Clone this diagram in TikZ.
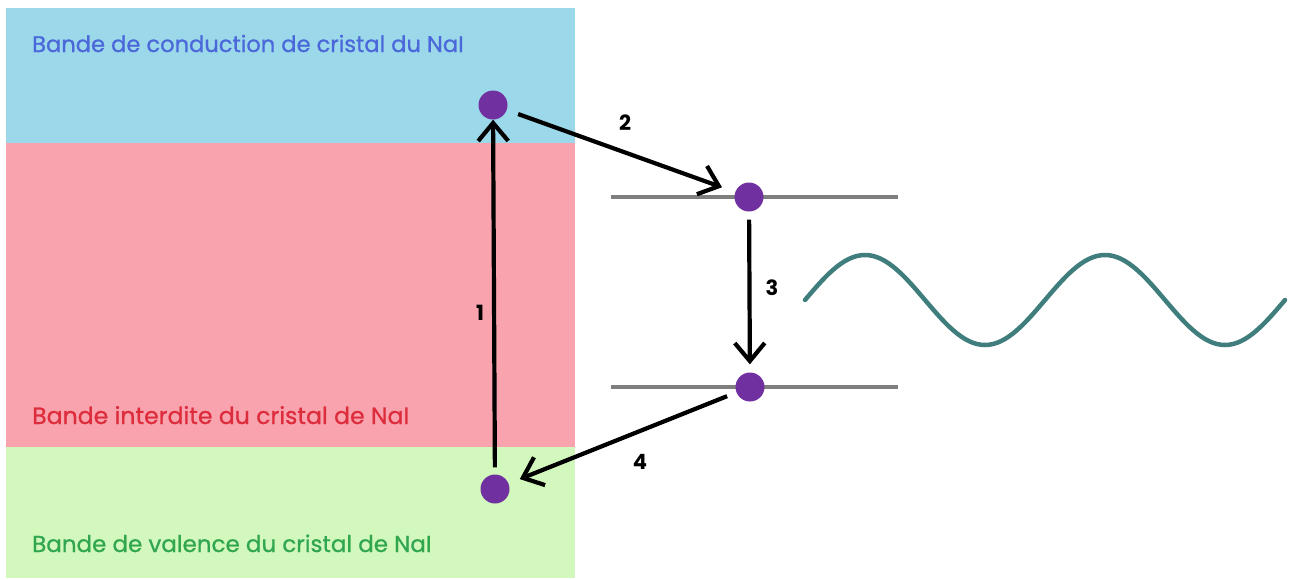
\documentclass[tikz,border=0pt]{standalone}
\usepackage{fontspec}
\setmainfont{Poppins}
\newfontfamily\bandfont[FakeBold=0.8]{Poppins}
\usetikzlibrary{arrows.meta}
\definecolor{blueband}{HTML}{9BD8E9}
\definecolor{pinkband}{HTML}{F9A3AE}
\definecolor{greenband}{HTML}{D3F8BD}
\definecolor{bluetext}{HTML}{4B68DA}
\definecolor{redtext}{HTML}{DD2D3C}
\definecolor{greentext}{HTML}{2FA64F}
\definecolor{dotpurple}{HTML}{7030A0}
\definecolor{wavecol}{HTML}{3F7E7C}
\definecolor{levelgrey}{HTML}{7F7F7F}
\begin{document}
\begin{tikzpicture}[x=1pt,y=-1pt,
  bandlabel/.style={anchor=base west,inner sep=0pt,font=\bandfont\fontsize{#1}{26}\selectfont},
  electron/.style={circle,fill=dotpurple,minimum size=29pt,inner sep=0pt},
  arr/.style={line width=4.2pt,-{Straight Barb[length=18pt,width=30pt]}},
  level/.style={line width=4pt,levelgrey},
  num/.style={font=\fontsize{21}{24}\selectfont\bfseries,inner sep=0pt},
  wave/.style={line width=4.5pt,wavecol,line cap=round,line join=round}]
\useasboundingbox (0,0) rectangle (1291,579);
\fill[blueband] (6,8) rectangle (575,143);
\fill[pinkband] (6,143) rectangle (575,447);
\fill[greenband] (6,447) rectangle (575,578);
\node[bandlabel=22.6,text=bluetext] (tc) at (32,52) {Bande de conduction de cristal du NaI};
\node[bandlabel=23.6,text=redtext] (ti) at (32,424) {Bande interdite du cristal de NaI};
\node[bandlabel=23.0,text=greentext] (tv) at (32,552) {Bande de valence du cristal de NaI};
\coordinate (l1a) at (611,197);
\coordinate (l1b) at (898,197);
\coordinate (l2a) at (611,387);
\coordinate (l2b) at (898,387);
\draw[level] (l1a) -- (l1b);
\draw[level] (l2a) -- (l2b);
\node[electron] (cb) at (493,105) {};
\node[electron] (vb) at (495,489) {};
\node[electron] (e1) at (749,197) {};
\node[electron] (e2) at (750,387) {};
\draw[arr,shorten <=7pt] (vb) -- (cb);
\draw[arr,shorten <=12pt,shorten >=14pt] (cb) -- (e1);
\draw[arr,shorten <=8pt,shorten >=8pt] (e1) -- (e2);
\draw[arr,shorten <=10pt,shorten >=12pt] (e2) -- (vb);
\node[num] (n1) at (480,313) {1};
\node[num] (n2) at (625,123) {2};
\node[num] (n3) at (772,288) {3};
\node[num] (n4) at (640,462) {4};
\draw[wave] plot[domain=805:1285,samples=121] (\x,{300-45*sin((\x-805)*1.5)});
\end{tikzpicture}
\end{document}
